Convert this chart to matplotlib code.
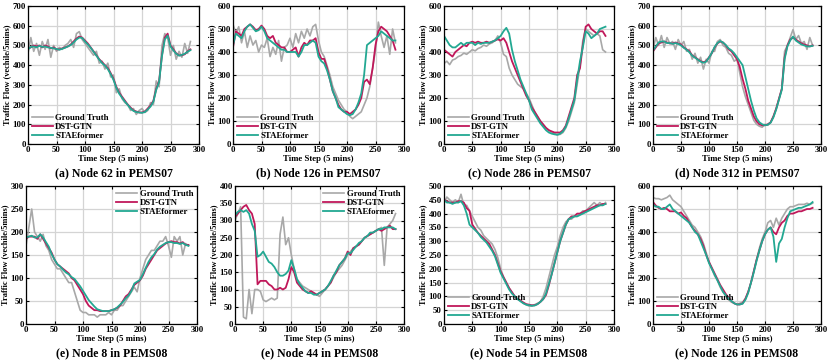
import numpy as np
import matplotlib
matplotlib.use('Agg')
import matplotlib.pyplot as plt

plt.rcParams['font.family'] = ['Liberation Serif', 'DejaVu Serif']
plt.rcParams['font.weight'] = 'bold'

# os czasu (co 5 krokow)
t = np.arange(0, 290, 5)

# ---------------------------------------------------------- (a) Node 62 PEMS07
gt_a = [460, 540, 470, 510, 450, 520, 480, 530, 440, 500, 470, 490, 480, 500, 510, 530, 490, 560, 570, 530,
        510, 490, 470, 450, 470, 410, 420, 380, 410, 340, 350, 260, 280, 230, 210, 200, 170, 180, 150, 170,
        180, 160, 170, 210, 200, 320, 290, 500, 560, 540, 450, 500, 430, 470, 440, 510, 460, 520]
dst_a = [485, 490, 500, 495, 500, 490, 500, 495, 485, 490, 480, 480, 485, 490, 495, 505, 520, 535, 545, 540,
         525, 510, 490, 470, 450, 430, 415, 400, 385, 360, 330, 290, 260, 240, 220, 200, 185, 170, 165, 160,
         160, 165, 180, 195, 220, 280, 320, 450, 540, 560, 500, 480, 460, 450, 450, 455, 470, 480]
sta_a = [480, 492, 495, 490, 498, 492, 495, 490, 488, 485, 482, 478, 483, 488, 495, 502, 515, 530, 540, 538,
         520, 505, 488, 468, 448, 428, 410, 398, 380, 355, 325, 285, 255, 235, 215, 198, 180, 168, 162, 160,
         158, 162, 175, 190, 215, 275, 315, 445, 530, 550, 495, 475, 458, 448, 452, 458, 468, 476]

# ---------------------------------------------------------- (b) Node 126 PEMS07
gt_b = [520, 480, 510, 440, 490, 420, 470, 430, 450, 400, 430, 420, 460, 380, 420, 390, 450, 360, 420, 430,
        460, 420, 480, 440, 490, 460, 500, 470, 510, 520, 450, 400, 380, 340, 300, 250, 220, 190, 170, 150,
        140, 120, 110, 120, 130, 140, 170, 200, 250, 330, 410, 530, 470, 420, 470, 390, 500, 440]
dst_b = [420, 490, 480, 470, 500, 510, 520, 510, 495, 500, 515, 500, 470, 460, 470, 440, 430, 420, 420, 400,
         400, 410, 420, 380, 420, 440, 430, 450, 450, 460, 400, 370, 370, 330, 280, 230, 200, 170, 150, 140,
         140, 130, 140, 150, 170, 200, 270, 280, 260, 330, 430, 490, 510, 500, 490, 470, 450, 410]
sta_b = [430, 480, 470, 460, 490, 510, 520, 505, 490, 495, 510, 490, 460, 450, 440, 430, 420, 410, 410, 400,
         400, 400, 400, 380, 400, 430, 430, 440, 450, 440, 380, 360, 350, 320, 280, 230, 200, 160, 150, 140,
         130, 125, 130, 150, 180, 220, 300, 430, 440, 450, 460, 470, 490, 480, 470, 460, 450, 450]

# ---------------------------------------------------------- (c) Node 286 PEMS07
gt_c = [350, 360, 345, 365, 370, 380, 385, 395, 390, 400, 410, 405, 415, 420, 430, 425, 435, 440, 450, 470,
        440, 390, 380, 330, 300, 280, 260, 250, 240, 220, 200, 170, 140, 120, 100, 85, 70, 60, 50, 45,
        40, 42, 50, 70, 100, 140, 180, 260, 340, 450, 500, 490, 480, 470, 480, 470, 410, 400]
dst_c = [410, 400, 390, 380, 400, 410, 420, 430, 425, 440, 445, 440, 445, 440, 440, 445, 440, 445, 450, 455,
         450, 460, 440, 400, 360, 330, 300, 270, 240, 210, 190, 160, 140, 120, 100, 85, 70, 60, 55, 50,
         50, 50, 60, 80, 120, 160, 200, 300, 330, 430, 510, 520, 500, 490, 480, 490, 490, 470]
sta_c = [470, 450, 430, 420, 420, 430, 440, 430, 440, 440, 440, 430, 440, 435, 440, 440, 440, 445, 450, 460,
         470, 490, 505, 480, 410, 360, 320, 280, 250, 220, 190, 150, 130, 110, 90, 75, 60, 50, 45, 42,
         40, 45, 55, 75, 110, 150, 190, 280, 360, 420, 490, 480, 460, 470, 480, 500, 505, 510]

# ---------------------------------------------------------- (d) Node 312 PEMS07
gt_d = [480, 540, 500, 550, 490, 540, 510, 520, 480, 530, 500, 520, 470, 480, 430, 460, 410, 440, 380, 430,
        410, 470, 470, 520, 530, 500, 490, 460, 450, 420, 430, 360, 290, 240, 200, 160, 120, 100, 90, 85,
        100, 95, 110, 140, 180, 230, 280, 470, 500, 540, 580, 530, 550, 510, 520, 480, 540, 500]
dst_d = [470, 490, 510, 515, 520, 515, 510, 510, 515, 510, 505, 490, 480, 470, 450, 440, 430, 420, 415, 420,
         440, 460, 490, 510, 520, 515, 500, 480, 470, 450, 430, 390, 330, 280, 220, 180, 140, 115, 100, 95,
         95, 100, 110, 140, 180, 230, 280, 440, 500, 530, 540, 530, 520, 510, 505, 500, 495, 500]
sta_d = [475, 495, 515, 520, 520, 512, 512, 508, 512, 508, 500, 488, 478, 465, 448, 438, 428, 418, 412, 418,
         438, 462, 492, 512, 522, 515, 502, 485, 475, 460, 440, 420, 400, 340, 280, 220, 170, 130, 110, 100,
         95, 98, 108, 135, 175, 225, 275, 430, 495, 525, 545, 525, 515, 505, 500, 495, 495, 498]

# ---------------------------------------------------------- (e) Node 8 PEMS08
gt_e = [170, 210, 250, 200, 190, 180, 195, 170, 160, 140, 130, 120, 120, 110, 100, 90, 90, 70, 50, 30,
        25, 25, 20, 20, 20, 15, 20, 20, 20, 25, 20, 30, 30, 40, 40, 50, 60, 70, 80, 70,
        100, 120, 140, 150, 160, 160, 170, 180, 180, 190, 170, 145, 190, 180, 190, 150, 175, 170]
dst_e = [185, 190, 190, 190, 185, 195, 185, 175, 165, 155, 140, 130, 125, 120, 115, 110, 100, 95, 85, 75,
         65, 50, 40, 35, 30, 30, 28, 28, 28, 28, 30, 32, 35, 40, 50, 60, 65, 75, 85, 90,
         95, 105, 120, 130, 140, 150, 160, 165, 170, 175, 178, 180, 178, 178, 175, 178, 172, 172]
sta_e = [188, 190, 192, 188, 188, 195, 188, 178, 168, 152, 140, 130, 125, 118, 112, 108, 102, 98, 90, 82,
         72, 62, 52, 45, 38, 32, 30, 28, 28, 28, 30, 32, 36, 42, 48, 56, 62, 72, 88, 92,
         96, 108, 122, 135, 145, 152, 162, 168, 172, 176, 178, 178, 176, 176, 174, 176, 172, 170]

# ---------------------------------------------------------- (f) Node 44 PEMS08
gt_f = [300, 320, 340, 20, 15, 100, 30, 100, 100, 95, 70, 65, 70, 75, 70, 75, 260, 310, 230, 250,
        200, 160, 130, 120, 110, 105, 100, 95, 90, 85, 80, 90, 100, 110, 120, 135, 150, 160, 170, 185,
        200, 210, 220, 225, 230, 240, 250, 255, 260, 265, 270, 275, 280, 170, 280, 290, 300, 320]
dst_f = [310, 320, 330, 340, 345, 330, 320, 290, 115, 125, 125, 125, 115, 110, 100, 100, 105, 100, 105, 130,
         165, 150, 120, 110, 100, 95, 90, 95, 90, 85, 90, 95, 100, 110, 120, 140, 150, 170, 180, 190,
         210, 200, 220, 225, 230, 240, 250, 255, 260, 265, 270, 275, 270, 275, 280, 285, 275, 275]
sta_f = [315, 325, 330, 325, 330, 320, 290, 270, 195, 200, 210, 195, 180, 175, 165, 150, 140, 140, 145, 155,
         185, 160, 130, 115, 105, 95, 90, 90, 85, 85, 90, 95, 100, 110, 125, 140, 155, 170, 180, 190,
         205, 205, 215, 225, 235, 240, 250, 255, 265, 265, 270, 275, 275, 280, 280, 280, 280, 275]

# ---------------------------------------------------------- (g) Node 54 PEMS08
gt_g = [440, 460, 450, 440, 450, 440, 470, 430, 430, 410, 390, 370, 350, 340, 320, 310, 300, 290, 270, 240,
        200, 170, 150, 130, 115, 100, 90, 85, 75, 70, 65, 65, 70, 75, 80, 100, 130, 170, 210, 250,
        280, 320, 350, 370, 380, 380, 390, 390, 400, 410, 410, 420, 430, 440, 430, 440, 430, 440]
dst_g = [450, 445, 440, 440, 440, 445, 445, 440, 420, 410, 360, 345, 330, 320, 310, 300, 290, 270, 250, 220,
         190, 170, 150, 130, 115, 100, 90, 85, 78, 72, 70, 68, 68, 72, 80, 90, 105, 140, 180, 220,
         260, 300, 330, 360, 380, 390, 390, 400, 400, 405, 410, 415, 420, 425, 430, 430, 435, 435]
sta_g = [450, 440, 440, 435, 440, 440, 445, 430, 400, 360, 350, 340, 330, 315, 305, 295, 280, 265, 245, 215,
         185, 165, 145, 125, 110, 100, 90, 82, 75, 70, 68, 66, 67, 72, 80, 90, 110, 145, 180, 220,
         260, 300, 330, 360, 380, 385, 390, 390, 395, 400, 405, 410, 415, 420, 425, 430, 430, 435]

# ---------------------------------------------------------- (h) Node 126 PEMS08
gt_h = [550, 545, 545, 540, 545, 550, 560, 540, 530, 520, 510, 490, 470, 450, 430, 420, 400, 380, 350, 310,
        270, 240, 210, 190, 160, 140, 120, 105, 95, 90, 85, 90, 95, 110, 140, 180, 230, 280, 330, 370,
        400, 440, 450, 420, 460, 430, 460, 480, 500, 510, 510, 515, 520, 520, 520, 525, 520, 525]
dst_h = [530, 515, 505, 500, 505, 500, 490, 490, 490, 480, 485, 470, 460, 440, 420, 405, 390, 370, 340, 300,
         270, 245, 220, 195, 170, 150, 130, 115, 100, 90, 85, 85, 90, 110, 140, 180, 230, 280, 320, 360,
         390, 410, 420, 400, 390, 420, 440, 450, 470, 480, 480, 485, 490, 490, 495, 500, 500, 505]
sta_h = [520, 510, 510, 500, 500, 510, 520, 500, 490, 480, 470, 460, 450, 440, 420, 400, 390, 360, 330, 300,
         265, 240, 215, 190, 165, 140, 125, 110, 100, 90, 85, 85, 88, 105, 135, 180, 225, 275, 320, 360,
         390, 410, 420, 380, 270, 350, 370, 420, 460, 490, 495, 500, 505, 505, 510, 515, 520, 530]

panels = [
    (gt_a, dst_a, sta_a, 700, '(a) Node 62 in PEMS07', 'lower left', ['Ground Truth', 'DST-GTN', 'STAEformer']),
    (gt_b, dst_b, sta_b, 600, '(b) Node 126 in PEMS07', 'lower left', ['Ground Truth', 'DST-GTN', 'STAEformer']),
    (gt_c, dst_c, sta_c, 600, '(c) Node 286 in PEMS07', 'lower left', ['Ground Truth', 'DST-GTN', 'STAEformer']),
    (gt_d, dst_d, sta_d, 700, '(d) Node 312 in PEMS07', 'lower left', ['Ground Truth', 'DST-GTN', 'STAEformer']),
    (gt_e, dst_e, sta_e, 300, '(e) Node 8 in PEMS08', 'upper right', ['Ground Truth', 'DST-GTN', 'STAEformer']),
    (gt_f, dst_f, sta_f, 400, '(e) Node 44 in PEMS08', 'upper right', ['Ground Truth', 'DST-GTN', 'STAEformer']),
    (gt_g, dst_g, sta_g, 500, '(e) Node 54 in PEMS08', 'lower left', ['Ground-Truth', 'DST-GTN', 'SATEformer']),
    (gt_h, dst_h, sta_h, 600, '(e) Node 126 in PEMS08', 'lower left', ['Ground Truth', 'DST-GTN', 'STAEformer']),
]

W, H = 830, 361
lefts = [[28, 233, 444, 653], [26, 235, 444, 653]]
rights = [[199, 404, 614, 821], [197, 404, 614, 821]]
tops = [6, 186]
bottoms = [144, 324]
caps = [173, 353]

c_gt, c_dst, c_sta = '#a8a8a8', '#c0185a', '#22a892'

fig = plt.figure(figsize=(W / 100, H / 100), dpi=100)
for i, (gt, dst, sta, ymax, cap, loc, labs) in enumerate(panels):
    r, c = divmod(i, 4)
    l, rr = lefts[r][c], rights[r][c]
    ax = fig.add_axes([l / W, 1 - bottoms[r] / H, (rr - l) / W, (bottoms[r] - tops[r]) / H])
    ax.plot(t, gt, color=c_gt, lw=1.2, label=labs[0])
    ax.plot(t, dst, color=c_dst, lw=1.3, label=labs[1])
    ax.plot(t, sta, color=c_sta, lw=1.3, label=labs[2])
    ax.set_xlim(0, 300)
    ax.set_ylim(0, ymax)
    ax.set_xticks(np.arange(0, 301, 50))
    step = 50 if ymax <= 500 else 100
    ax.set_yticks(np.arange(0, ymax + 1, step))
    ax.grid(True, color='#d4d4d4', lw=0.9)
    ax.set_axisbelow(True)
    ax.tick_params(direction='in', length=2.5, width=0.8, labelsize=6.3, pad=1.5, top=True, right=True)
    for lb in ax.get_xticklabels() + ax.get_yticklabels():
        lb.set_fontweight('bold')
    for s in ax.spines.values():
        s.set_linewidth(0.9)
    ax.set_xlabel('Time Step (5 mins)', fontsize=6.3, fontweight='bold', labelpad=1)
    ax.set_ylabel('Traffic Flow (vechile/5mins)', fontsize=6.0, fontweight='bold', labelpad=1)
    ax.legend(loc=loc, frameon=False, handlelength=2.4, handletextpad=0.3,
              labelspacing=0.15, borderpad=0.2, borderaxespad=0.2,
              prop={'weight': 'bold', 'size': 6.3})
    fig.text((l + rr) / 2 / W, 1 - caps[r] / H, cap, ha='center', va='center',
             fontsize=8.5, fontweight='bold')

plt.savefig('out.png', dpi=100)
